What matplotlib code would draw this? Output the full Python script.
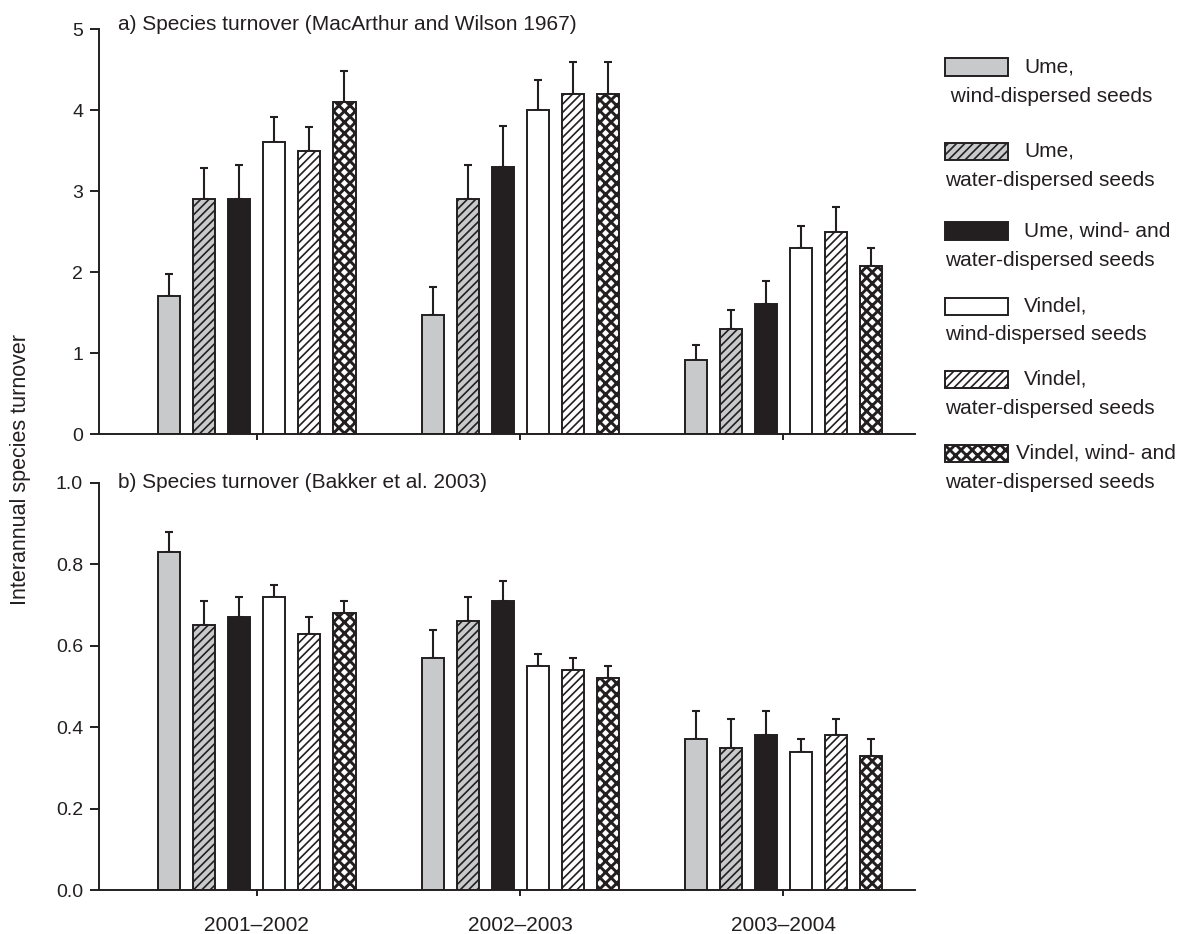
import numpy as np
import matplotlib.pyplot as plt
from matplotlib.patches import Rectangle

plt.rcParams['font.family'] = ['Liberation Sans', 'DejaVu Sans']
plt.rcParams['hatch.linewidth'] = 1.2

ink = '#231f20'

periods = ['2001\u20132002', '2002\u20132003', '2003\u20132004']

# legend text, first line next to the swatch, second line below it
label_top = ['Ume,', 'Ume,', 'Ume, wind- and', 'Vindel,', 'Vindel,', 'Vindel, wind- and']
label_bottom = [' wind-dispersed seeds', 'water-dispersed seeds', 'water-dispersed seeds',
                'wind-dispersed seeds', 'water-dispersed seeds', 'water-dispersed seeds']

# a) MacArthur and Wilson 1967 -- one row per series, one column per period
mw_mean = [[1.70, 1.47, 0.92],
           [2.90, 2.90, 1.30],
           [2.90, 3.30, 1.60],
           [3.60, 4.00, 2.30],
           [3.50, 4.20, 2.50],
           [4.10, 4.20, 2.08]]
mw_err = [[0.28, 0.34, 0.18],
          [0.38, 0.42, 0.23],
          [0.42, 0.50, 0.29],
          [0.31, 0.37, 0.27],
          [0.29, 0.39, 0.30],
          [0.38, 0.39, 0.22]]

# b) Bakker et al. 2003
bk_mean = [[0.83, 0.57, 0.37],
           [0.65, 0.66, 0.35],
           [0.67, 0.71, 0.38],
           [0.72, 0.55, 0.34],
           [0.63, 0.54, 0.38],
           [0.68, 0.52, 0.33]]
bk_err = [[0.05, 0.07, 0.07],
          [0.06, 0.06, 0.07],
          [0.05, 0.05, 0.06],
          [0.03, 0.03, 0.03],
          [0.04, 0.03, 0.04],
          [0.03, 0.03, 0.04]]

faces = ['#c8c9cb', '#c8c9cb', ink, 'white', 'white', 'white']
hatches = [None, '////', None, None, '////', 'xxx']
hatch_lw = [1.2, 1.2, 1.2, 1.2, 1.2, 2.1]

bar_w = 0.084
step = 0.133
x = np.arange(len(periods))

fig = plt.figure(figsize=(11.8, 9.34), dpi=100)
ax_a = fig.add_axes([0.0839, 0.5353, 0.6915, 0.4336])
ax_b = fig.add_axes([0.0839, 0.0471, 0.6915, 0.4358])


def set_hlw(patch, lw):
    if hasattr(patch, 'set_hatch_linewidth'):
        patch.set_hatch_linewidth(lw)


def draw(ax, means, errs):
    for i in range(len(means)):
        xs = x + (i - 2.5) * step
        m = np.array(means[i])
        e = np.array(errs[i])
        ax.errorbar(xs, m, yerr=[np.zeros_like(e), e], fmt='none', ecolor=ink,
                    elinewidth=1.5, capsize=3.2, capthick=1.5, zorder=1)
        with plt.rc_context({'hatch.linewidth': hatch_lw[i]}):
            bars = ax.bar(xs, m, width=bar_w, color=faces[i], edgecolor=ink,
                          linewidth=1.4, hatch=hatches[i], zorder=2)
        for b in bars:
            set_hlw(b, hatch_lw[i])
    ax.set_xlim(-0.6, 2.5)
    ax.set_xticks(x)
    for s in ['top', 'right']:
        ax.spines[s].set_visible(False)
    for s in ['left', 'bottom']:
        ax.spines[s].set_linewidth(1.4)
        ax.spines[s].set_color(ink)
    ax.tick_params(axis='y', direction='out', length=6.5, width=1.4, colors=ink,
                   labelsize=14, pad=5)
    ax.tick_params(axis='x', direction='out', length=4.5, width=1.4, colors=ink,
                   labelsize=15, pad=14)


draw(ax_a, mw_mean, mw_err)
ax_a.set_ylim(0, 5)
ax_a.set_yticks([0, 1, 2, 3, 4, 5])
ax_a.set_xticklabels([])
ax_a.text(0.023, 1.01, 'a) Species turnover (MacArthur and Wilson 1967)',
          transform=ax_a.transAxes, fontsize=15, color=ink, va='center')

draw(ax_b, bk_mean, bk_err)
ax_b.set_ylim(0, 1.0)
ax_b.set_yticks([0.0, 0.2, 0.4, 0.6, 0.8, 1.0])
ax_b.set_yticklabels(['0.0', '0.2', '0.4', '0.6', '0.8', '1.0'])
ax_b.set_xticklabels(periods)
ax_b.text(0.023, 1.0, 'b) Species turnover (Bakker et al. 2003)',
          transform=ax_b.transAxes, fontsize=15, color=ink, va='center')

fig.text(0.017, 0.497, 'Interannual species turnover', rotation=90,
         fontsize=15.5, color=ink, va='center', ha='center')

# legend drawn by hand so the second line sits under the swatch
W, H = 1180.0, 934.0
leg_y = [67, 151, 231, 306, 379, 453]
for i in range(len(label_top)):
    yc = leg_y[i]
    with plt.rc_context({'hatch.linewidth': hatch_lw[i]}):
        r = Rectangle((945 / W, 1 - (yc + 8.5) / H), 63 / W, 17 / H,
                      transform=fig.transFigure, facecolor=faces[i],
                      edgecolor=ink, linewidth=1.4, hatch=hatches[i])
    set_hlw(r, hatch_lw[i])
    fig.add_artist(r)
    tx = 1016 if i == 5 else 1024
    fig.text(tx / W, 1 - yc / H, label_top[i], fontsize=15, color=ink, va='center')
    fig.text(945 / W, 1 - (yc + 29) / H, label_bottom[i], fontsize=15, color=ink,
             va='center')

fig.savefig('out.png', dpi=100)
